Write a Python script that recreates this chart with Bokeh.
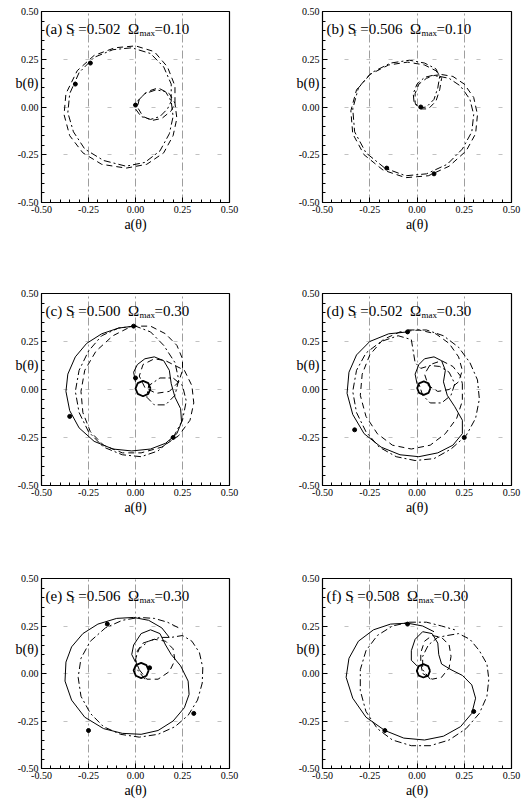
from bokeh.plotting import figure
from bokeh.models import Label, FixedTicker, NumeralTickFormatter, Range1d, LinearAxis
from bokeh.layouts import column, row
from bokeh.embed import file_html
from bokeh.resources import INLINE

# ---------------- data ----------------
# panel (a): S_f = 0.502, Omega_max = 0.10
A_a_dd = [0.19, 0.19, 0.15, 0.08, -0.02, -0.12, -0.22, -0.30, -0.35, -0.36, -0.33, -0.27, -0.17, -0.05, 0.05,
          0.13, 0.18, 0.20, 0.19, 0.16, 0.11, 0.05, 0.01, 0.00, 0.03, 0.08, 0.13, 0.17, 0.19]
B_a_dd = [0.03, 0.12, 0.21, 0.28, 0.31, 0.30, 0.26, 0.18, 0.07, -0.03, -0.13, -0.22, -0.28, -0.31, -0.29,
          -0.23, -0.14, -0.05, 0.03, 0.08, 0.09, 0.07, 0.03, -0.01, -0.05, -0.065, -0.05, -0.01, 0.03]
A_a_da = [0.21, 0.21, 0.17, 0.10, 0.00, -0.11, -0.22, -0.31, -0.37, -0.38, -0.35, -0.28, -0.18, -0.05, 0.06,
          0.15, 0.20, 0.22, 0.21, 0.18, 0.12, 0.06, 0.02, 0.01, 0.04, 0.09, 0.14, 0.19, 0.21]
B_a_da = [0.02, 0.11, 0.21, 0.29, 0.32, 0.31, 0.27, 0.19, 0.07, -0.04, -0.15, -0.24, -0.30, -0.32, -0.30,
          -0.24, -0.15, -0.06, 0.02, 0.07, 0.10, 0.08, 0.04, 0.00, -0.05, -0.07, -0.06, -0.02, 0.02]
MA_a = [-0.32, -0.24, 0.00]
MB_a = [0.12, 0.23, 0.01]

# panel (b): S_f = 0.506, Omega_max = 0.10
A_b_dd = [0.12, 0.17, 0.23, 0.28, 0.30, 0.29, 0.24, 0.16, 0.05, -0.06, -0.17, -0.27, -0.33, -0.34, -0.31,
          -0.24, -0.14, -0.04, 0.04, 0.10, 0.12, 0.11, 0.09, 0.05, 0.01, -0.015, -0.02, 0.00, 0.04, 0.08, 0.12]
B_b_dd = [0.16, 0.15, 0.11, 0.04, -0.04, -0.13, -0.22, -0.30, -0.35, -0.36, -0.32, -0.24, -0.13, -0.01, 0.10,
          0.18, 0.23, 0.245, 0.23, 0.20, 0.16, 0.10, 0.04, 0.00, -0.005, 0.02, 0.07, 0.12, 0.155, 0.165, 0.16]
A_b_da = [0.13, 0.19, 0.25, 0.30, 0.32, 0.31, 0.26, 0.17, 0.06, -0.06, -0.18, -0.28, -0.34, -0.35, -0.32,
          -0.25, -0.15, -0.05, 0.04, 0.10, 0.13, 0.12, 0.10, 0.06, 0.02, -0.01, -0.01, 0.01, 0.05, 0.09, 0.13]
B_b_da = [0.17, 0.16, 0.12, 0.05, -0.04, -0.14, -0.23, -0.31, -0.36, -0.37, -0.33, -0.25, -0.14, -0.02, 0.09,
          0.17, 0.22, 0.235, 0.22, 0.19, 0.15, 0.09, 0.03, -0.01, -0.01, 0.02, 0.07, 0.12, 0.15, 0.165, 0.17]
MA_b = [-0.16, 0.02, 0.09]
MB_b = [-0.32, 0.00, -0.35]

# panel (c): S_f = 0.500, Omega_max = 0.30
A_c_ci = [0.080, 0.068, 0.040, 0.012, 0.000, 0.012, 0.040, 0.068, 0.080]
B_c_ci = [0.005, 0.033, 0.045, 0.033, 0.005, -0.023, -0.035, -0.023, 0.005]
A_c_so = [0.00, -0.01, 0.01, 0.05, 0.10, 0.15, 0.18, 0.19, 0.21, 0.24, 0.245, 0.22, 0.16, 0.08, -0.02, -0.12,
          -0.22, -0.30, -0.35, -0.37, -0.36, -0.32, -0.26, -0.18, -0.09, -0.01]
B_c_so = [0.04, 0.09, 0.13, 0.16, 0.17, 0.15, 0.10, 0.03, -0.04, -0.10, -0.17, -0.23, -0.28, -0.31, -0.32, -0.31,
          -0.27, -0.20, -0.11, -0.01, 0.08, 0.17, 0.24, 0.29, 0.32, 0.33]
A_c_da = [0.26, 0.30, 0.31, 0.29, 0.23, 0.14, 0.03, -0.07, -0.17, -0.24, -0.28, -0.29, -0.27, -0.21, -0.12,
          -0.02, 0.08, 0.16, 0.22, 0.25, 0.25, 0.23, 0.18, 0.11, 0.05, 0.02, 0.04, 0.10, 0.16, 0.22, 0.26]
B_c_da = [0.10, 0.02, -0.07, -0.16, -0.24, -0.30, -0.33, -0.33, -0.29, -0.22, -0.12, -0.01, 0.10, 0.20, 0.28,
          0.33, 0.33, 0.29, 0.23, 0.16, 0.10, 0.04, -0.01, -0.02, 0.01, 0.07, 0.13, 0.16, 0.15, 0.12, 0.10]
A_c_dd = [0.00, -0.09, -0.18, -0.25, -0.30, -0.32, -0.30, -0.25, -0.17, -0.07, 0.03, 0.12, 0.20, 0.25, 0.27,
          0.25, 0.20, 0.13, 0.07, 0.06, 0.10, 0.16, 0.21, 0.23, 0.21, 0.15, 0.08, 0.00]
B_c_dd = [0.33, 0.32, 0.28, 0.20, 0.10, -0.01, -0.12, -0.22, -0.30, -0.34, -0.35, -0.32, -0.25, -0.16, -0.06,
          0.02, 0.06, 0.06, 0.02, -0.04, -0.08, -0.08, -0.03, 0.05, 0.14, 0.23, 0.30, 0.33]
MA_c = [-0.01, -0.35, 0.20, 0.00]
MB_c = [0.33, -0.14, -0.25, 0.06]

# panel (d): S_f = 0.502, Omega_max = 0.30
A_d_ci = [0.071, 0.061, 0.036, 0.011, 0.001, 0.011, 0.036, 0.061, 0.071]
B_d_ci = [0.007, 0.032, 0.042, 0.032, 0.007, -0.018, -0.028, -0.018, 0.007]
A_d_so = [0.00, -0.01, 0.01, 0.04, 0.09, 0.13, 0.15, 0.14, 0.16, 0.20, 0.24, 0.24, 0.19, 0.11, 0.01, -0.09,
          -0.19, -0.28, -0.34, -0.37, -0.36, -0.32, -0.25, -0.15, -0.05]
B_d_so = [0.03, 0.08, 0.13, 0.16, 0.17, 0.15, 0.10, 0.04, -0.03, -0.09, -0.16, -0.23, -0.29, -0.33, -0.35, -0.34,
          -0.30, -0.23, -0.13, -0.02, 0.09, 0.18, 0.25, 0.29, 0.30]
A_d_da = [0.24, 0.24, 0.21, 0.15, 0.07, -0.03, -0.13, -0.21, -0.27, -0.30, -0.29, -0.25, -0.18, -0.09, 0.01,
          0.10, 0.17, 0.22, 0.24, 0.22, 0.17, 0.11, 0.06, 0.04, 0.07, 0.13, 0.19, 0.23, 0.24]
B_d_da = [0.03, -0.06, -0.15, -0.23, -0.29, -0.31, -0.29, -0.23, -0.14, -0.03, 0.08, 0.18, 0.26, 0.30, 0.31,
          0.29, 0.24, 0.17, 0.10, 0.04, 0.00, -0.01, 0.02, 0.08, 0.13, 0.15, 0.12, 0.07, 0.03]
A_d_dd = [-0.05, 0.05, 0.14, 0.22, 0.28, 0.32, 0.33, 0.31, 0.26, 0.18, 0.09, -0.01, -0.11, -0.20, -0.27, -0.32,
          -0.34, -0.32, -0.27, -0.19, -0.10, -0.03, -0.02, -0.01, 0.02, 0.07, 0.12, 0.17, 0.20, 0.18, 0.13,
          0.07, 0.03, 0.01]
B_d_dd = [0.31, 0.31, 0.28, 0.22, 0.14, 0.05, -0.05, -0.15, -0.24, -0.31, -0.36, -0.37, -0.35, -0.30, -0.22,
          -0.12, -0.01, 0.10, 0.19, 0.25, 0.28, 0.26, 0.20, 0.14, 0.11, 0.125, 0.12, 0.09, 0.03, -0.03, -0.07,
          -0.07, -0.03, 0.03]
MA_d = [-0.05, -0.33, 0.25]
MB_d = [0.30, -0.21, -0.25]

# panel (e): S_f = 0.506, Omega_max = 0.30
A_e_ci = [0.070, 0.058, 0.030, 0.002, -0.010, 0.002, 0.030, 0.058, 0.070]
B_e_ci = [0.016, 0.044, 0.056, 0.044, 0.016, -0.012, -0.024, -0.012, 0.016]
A_e_so = [0.00, -0.02, -0.01, 0.03, 0.08, 0.13, 0.16, 0.19, 0.24, 0.28, 0.285, 0.26, 0.20, 0.12, 0.03, -0.07,
          -0.17, -0.27, -0.34, -0.375, -0.37, -0.34, -0.28, -0.20, -0.10, -0.01, 0.07, 0.14, 0.18]
B_e_so = [0.06, 0.10, 0.15, 0.21, 0.23, 0.21, 0.15, 0.10, 0.04, -0.04, -0.11, -0.18, -0.25, -0.30, -0.32, -0.315,
          -0.29, -0.23, -0.14, -0.04, 0.06, 0.14, 0.21, 0.26, 0.29, 0.295, 0.28, 0.24, 0.19]
A_e_dd = [0.05, 0.01, 0.00, 0.02, 0.07, 0.13, 0.19, 0.25, 0.30, 0.34, 0.358, 0.355, 0.33, 0.28, 0.21, 0.12,
          0.02, -0.08, -0.17, -0.24, -0.29, -0.305, -0.29, -0.24, -0.16, -0.07, 0.02, 0.10, 0.17, 0.23]
B_e_dd = [-0.03, 0.02, 0.08, 0.13, 0.17, 0.19, 0.19, 0.20, 0.17, 0.11, 0.03, -0.05, -0.14, -0.22, -0.28, -0.32,
          -0.335, -0.32, -0.28, -0.21, -0.12, -0.02, 0.08, 0.17, 0.24, 0.28, 0.295, 0.29, 0.27, 0.24]
A_e_da = [0.02, 0.06, 0.12, 0.18, 0.21, 0.20, 0.16, 0.10, 0.04, 0.01, 0.00, 0.02]
B_e_da = [0.02, -0.03, -0.03, 0.01, 0.07, 0.13, 0.17, 0.18, 0.16, 0.12, 0.07, 0.02]
MA_e = [-0.15, -0.25, 0.31, 0.075]
MB_e = [0.26, -0.30, -0.21, 0.03]

# panel (f): S_f = 0.508, Omega_max = 0.30
A_f_ci = [0.069, 0.059, 0.034, 0.009, -0.001, 0.009, 0.034, 0.059, 0.069]
B_f_ci = [0.014, 0.039, 0.049, 0.039, 0.014, -0.011, -0.021, -0.011, 0.014]
A_f_so = [0.00, -0.03, -0.03, -0.01, 0.03, 0.08, 0.11, 0.115, 0.13, 0.18, 0.24, 0.29, 0.31, 0.29, 0.23, 0.14,
          0.04, -0.07, -0.17, -0.27, -0.34, -0.375, -0.36, -0.31, -0.23, -0.14, -0.05, 0.03, 0.09]
B_f_so = [0.04, 0.07, 0.12, 0.18, 0.22, 0.21, 0.16, 0.10, 0.05, 0.02, -0.01, -0.06, -0.13, -0.21, -0.28, -0.33,
          -0.35, -0.34, -0.30, -0.23, -0.13, -0.02, 0.08, 0.17, 0.23, 0.26, 0.265, 0.25, 0.22]
A_f_dd = [0.07, 0.03, 0.03, 0.06, 0.11, 0.16, 0.22, 0.28, 0.33, 0.37, 0.38, 0.37, 0.33, 0.26, 0.17, 0.07,
          -0.03, -0.13, -0.21, -0.27, -0.30, -0.30, -0.27, -0.21, -0.13, -0.04, 0.05, 0.13, 0.20]
B_f_dd = [-0.03, 0.02, 0.09, 0.15, 0.19, 0.20, 0.21, 0.18, 0.12, 0.05, -0.03, -0.12, -0.21, -0.29, -0.35, -0.38,
          -0.38, -0.35, -0.29, -0.20, -0.09, 0.02, 0.12, 0.20, 0.25, 0.27, 0.27, 0.25, 0.23]
A_f_da = [0.03, 0.08, 0.13, 0.17, 0.18, 0.17, 0.13, 0.08, 0.04, 0.02, 0.02, 0.03]
B_f_da = [0.00, -0.03, -0.02, 0.03, 0.09, 0.15, 0.19, 0.20, 0.17, 0.11, 0.05, 0.00]
MA_f = [0.30, -0.17, -0.05]
MB_f = [-0.20, -0.30, 0.26]

LETTERS = ["a", "b", "c", "d", "e", "f"]
SF = ["0.502", "0.506", "0.500", "0.502", "0.506", "0.508"]
OMEGA = ["0.10", "0.10", "0.30", "0.30", "0.30", "0.30"]
TICKS = [-0.5, -0.25, 0.0, 0.25, 0.5]
GRID = [-0.25, 0.0, 0.25]
YLABEL_AT = 0.125

FONT = "Liberation Serif"
DASHDOT = "7 3 2 3"
DASHED = "6 4"
NB = "\u00a0"
# pixel start of the subscript "f" after "(x) S", by panel letter (letter widths differ)
SUB_X = {"a": 30, "b": 31, "c": 30, "d": 31, "e": 30, "f": 28}


def make_panel(width, height, bl, br, bt, bb):
    p = figure(width=width, height=height, x_range=Range1d(-0.5, 0.5), y_range=Range1d(-0.5, 0.5),
               output_backend="svg", toolbar_location=None,
               min_border_left=bl, min_border_right=br, min_border_top=bt, min_border_bottom=bb)
    p.background_fill_color = "white"
    p.border_fill_color = "white"
    p.outline_line_color = "black"
    p.outline_line_width = 1.2
    minor = [round(-0.5 + 0.05 * i, 2) for i in range(21)]
    for ax in (p.xaxis[0], p.yaxis[0]):
        ax.ticker = FixedTicker(ticks=TICKS, minor_ticks=minor)
        ax.formatter = NumeralTickFormatter(format="0.00")
        ax.axis_line_color = None
        ax.major_tick_in = 5
        ax.major_tick_out = 0
        ax.minor_tick_in = 3
        ax.minor_tick_out = 0
        ax.major_tick_line_color = "black"
        ax.minor_tick_line_color = "black"
        ax.major_label_text_font = FONT
        ax.major_label_text_font_size = "10px"
        ax.major_label_text_color = "black"
        ax.major_label_standoff = 3
    p.xaxis[0].axis_label = "a(θ)"
    p.xaxis[0].axis_label_text_font = FONT
    p.xaxis[0].axis_label_text_font_size = "14px"
    p.xaxis[0].axis_label_text_font_style = "normal"
    p.xaxis[0].axis_label_text_color = "black"
    p.xaxis[0].axis_label_standoff = 1

    # horizontal "b(θ)" label placed like a tick label, overlapping the tick-label column
    lab = LinearAxis(ticker=FixedTicker(ticks=[YLABEL_AT], minor_ticks=[]),
                     major_label_overrides={YLABEL_AT: "b(θ)"})
    lab.axis_line_color = None
    lab.major_tick_line_color = None
    lab.minor_tick_line_color = None
    lab.major_tick_in = 0
    lab.major_tick_out = 0
    lab.major_label_text_font = FONT
    lab.major_label_text_font_size = "14px"
    lab.major_label_text_color = "black"
    lab.major_label_standoff = -24
    p.add_layout(lab, "left")

    p.xgrid.ticker = FixedTicker(ticks=GRID)
    p.ygrid.ticker = FixedTicker(ticks=GRID)
    p.xgrid.grid_line_color = "#666666"
    p.xgrid.grid_line_dash = "8 3 2 3"
    p.xgrid.grid_line_width = 0.8
    p.xgrid.grid_line_alpha = 0.8
    p.ygrid.grid_line_color = "#666666"
    p.ygrid.grid_line_dash = "4 18"
    p.ygrid.grid_line_width = 0.8
    p.ygrid.grid_line_alpha = 0.5
    return p


def add_title(p, letter, sf, om):
    sx = SUB_X[letter]
    pieces = [
        ("(" + letter + ")" + NB + "S", 4, 0.41, "15px"),
        ("f", sx, 0.388, "9px"),
        (NB + "=" + sf + NB + NB + "Ω", sx + 3, 0.41, "15px"),
        ("max", sx + 68, 0.388, "9px"),
        ("=" + om, sx + 83, 0.41, "15px"),
    ]
    for txt, dx, y, fs in pieces:
        p.add_layout(Label(x=-0.5, y=y, x_offset=dx, text=txt, text_font=FONT, text_font_size=fs,
                           text_baseline="alphabetic", text_color="black"))


def curve(p, a, b, dash, width=1.0):
    p.line(a, b, line_color="black", line_width=width, line_dash=dash)


def marks(p, a, b):
    p.scatter(a, b, size=4, color="black")


W_L, W_R = 260, 261
pa = make_panel(W_L, 265, 41, 31, 11, 63)
pb = make_panel(W_R, 265, 62, 10, 11, 63)
pc = make_panel(W_L, 280, 41, 31, 28, 60)
pd = make_panel(W_R, 280, 62, 10, 28, 60)
pe = make_panel(W_L, 255, 41, 31, 33, 31)
pf = make_panel(W_R, 255, 62, 10, 33, 31)

curve(pa, A_a_dd, B_a_dd, DASHDOT)
curve(pa, A_a_da, B_a_da, DASHED)
marks(pa, MA_a, MB_a)
curve(pb, A_b_dd, B_b_dd, DASHDOT)
curve(pb, A_b_da, B_b_da, DASHED)
marks(pb, MA_b, MB_b)

curve(pc, A_c_ci, B_c_ci, "solid", 1.8)
curve(pc, A_c_so, B_c_so, "solid")
curve(pc, A_c_da, B_c_da, DASHED)
curve(pc, A_c_dd, B_c_dd, DASHDOT)
marks(pc, MA_c, MB_c)

curve(pd, A_d_ci, B_d_ci, "solid", 1.8)
curve(pd, A_d_so, B_d_so, "solid")
curve(pd, A_d_da, B_d_da, DASHED)
curve(pd, A_d_dd, B_d_dd, DASHDOT)
marks(pd, MA_d, MB_d)

curve(pe, A_e_ci, B_e_ci, "solid", 1.8)
curve(pe, A_e_so, B_e_so, "solid")
curve(pe, A_e_da, B_e_da, DASHED)
curve(pe, A_e_dd, B_e_dd, DASHDOT)
marks(pe, MA_e, MB_e)

curve(pf, A_f_ci, B_f_ci, "solid", 1.8)
curve(pf, A_f_so, B_f_so, "solid")
curve(pf, A_f_da, B_f_da, DASHED)
curve(pf, A_f_dd, B_f_dd, DASHDOT)
marks(pf, MA_f, MB_f)

panels = [pa, pb, pc, pd, pe, pf]
for p, l, s, o in zip(panels, LETTERS, SF, OMEGA):
    add_title(p, l, s, o)

layout = column(row(pa, pb), row(pc, pd), row(pe, pf))
open("out.html", "w").write(file_html(layout, INLINE))
